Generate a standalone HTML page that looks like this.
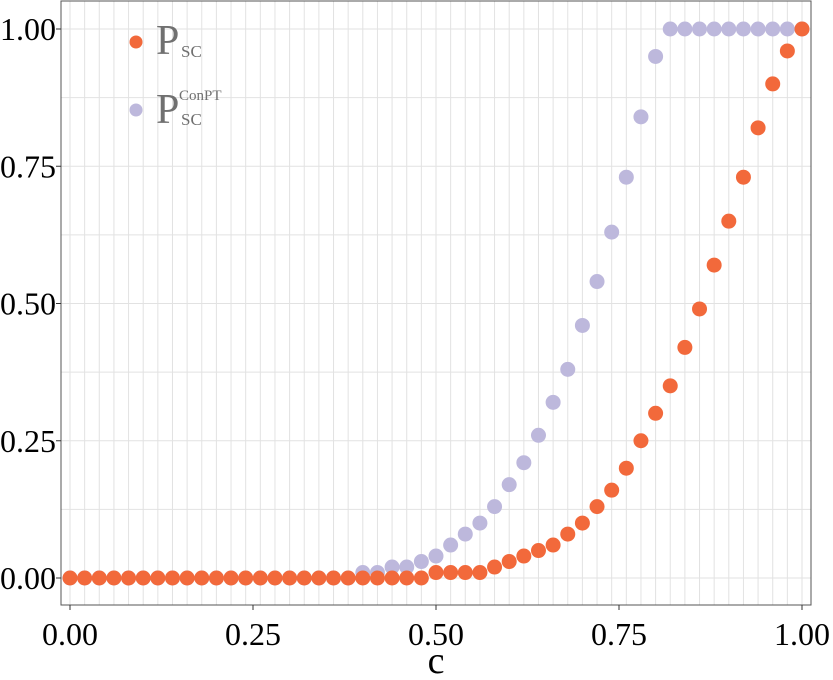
<!DOCTYPE html>
<html><head><meta charset="utf-8"><style>
body{margin:0;background:#fff;}
svg text{font-family:"Liberation Serif",serif;}
</style></head><body>
<svg id="chart" width="833" height="675" xmlns="http://www.w3.org/2000/svg"></svg>
<script>
const cValues=[0,0.02,0.04,0.06,0.08,0.1,0.12,0.14,0.16,0.18,0.2,0.22,0.24,0.26,0.28,0.3,0.32,0.34,0.36,0.38,0.4,0.42,0.44,0.46,0.48,0.5,0.52,0.54,0.56,0.58,0.6,0.62,0.64,0.66,0.68,0.7,0.72,0.74,0.76,0.78,0.8,0.82,0.84,0.86,0.88,0.9,0.92,0.94,0.96,0.98,1];
const pConPT=[0,0,0,0,0,0,0,0,0,0,0,0,0,0,0,0,0,0,0,0,0.01,0.01,0.02,0.02,0.03,0.04,0.06,0.08,0.10,0.13,0.17,0.21,0.26,0.32,0.38,0.46,0.54,0.63,0.73,0.84,0.95,1,1,1,1,1,1,1,1,1,1];
const pSC=[0,0,0,0,0,0,0,0,0,0,0,0,0,0,0,0,0,0,0,0,0,0,0,0,0,0.01,0.01,0.01,0.01,0.02,0.03,0.04,0.05,0.06,0.08,0.10,0.13,0.16,0.20,0.25,0.30,0.35,0.42,0.49,0.57,0.65,0.73,0.82,0.90,0.96,1.00];
const xTicks=[0,0.25,0.5,0.75,1];
const xTickLabels=["0.00","0.25","0.50","0.75","1.00"];
const yTicks=[0,0.25,0.5,0.75,1];
const yTickLabels=["0.00","0.25","0.50","0.75","1.00"];

const svg=document.getElementById('chart');
const NS="http://www.w3.org/2000/svg";
const L=61,R=811,T=1,B=605;
const sx=v=>70+v*732;
const sy=v=>578-v*549;
function mk(tag,attrs,parent){const e=document.createElementNS(NS,tag);for(const k in attrs)e.setAttribute(k,attrs[k]);(parent||svg).appendChild(e);return e;}

const grid=mk('g',{});


for(let v=-0.02;v<=1.03;v+=0.02){const x=sx(v);if(x<L||x>R)continue;mk('line',{x1:x,x2:x,y1:T,y2:B,stroke:'#e2e2e2','stroke-width':1},grid);}
for(let v=0;v<=1.001;v+=0.125){mk('line',{x1:L,x2:R,y1:sy(v),y2:sy(v),stroke:'#e2e2e2','stroke-width':1},grid);}
const frame=mk('rect',{x:L,y:T,width:R-L,height:B-T,fill:'none',stroke:'#555','stroke-width':1});



xTicks.forEach((v,i)=>{
  mk('line',{x1:sx(v),x2:sx(v),y1:B,y2:B+5,stroke:'#333'});
  const t=mk('text',{x:sx(v),y:645,'font-size':32,'text-anchor':'middle',fill:'#000'});
  t.textContent=xTickLabels[i];
  
  
});
yTicks.forEach((v,i)=>{
  mk('line',{x1:L-5,x2:L,y1:sy(v),y2:sy(v),stroke:'#333'});
  const t=mk('text',{x:56,y:sy(v)+11,'font-size':32,'text-anchor':'end',fill:'#000'});
  t.textContent=yTickLabels[i];
  
  
});
const xt=mk('text',{x:436,y:673,'font-size':38,'text-anchor':'middle',fill:'#000'});
xt.textContent='c';



cValues.forEach((c,i)=>{
  const p=mk('circle',{cx:sx(c),cy:sy(pConPT[i]),r:7.5,fill:'#bdb8dc'});
  
  
});
cValues.forEach((c,i)=>{
  const p=mk('circle',{cx:sx(c),cy:sy(pSC[i]),r:7.5,fill:'#f2693b'});
  
  
});

const lg=mk('g',{});


const e1=mk('g',{},lg);


mk('circle',{cx:136,cy:42,r:6.5,fill:'#f2693b'},e1);
let t=mk('text',{x:156,y:54,'font-size':42,fill:'#707070'},e1);t.textContent='P';
t=mk('text',{x:181,y:57,'font-size':17,fill:'#707070'},e1);t.textContent='SC';
const e2=mk('g',{},lg);


mk('circle',{cx:136,cy:110,r:6.5,fill:'#bdb8dc'},e2);
t=mk('text',{x:156,y:123,'font-size':42,fill:'#707070'},e2);t.textContent='P';
t=mk('text',{x:181,y:125,'font-size':17,fill:'#707070'},e2);t.textContent='SC';
t=mk('text',{x:179,y:100,'font-size':15,fill:'#707070'},e2);t.textContent='ConPT';
</script>
</body></html>
